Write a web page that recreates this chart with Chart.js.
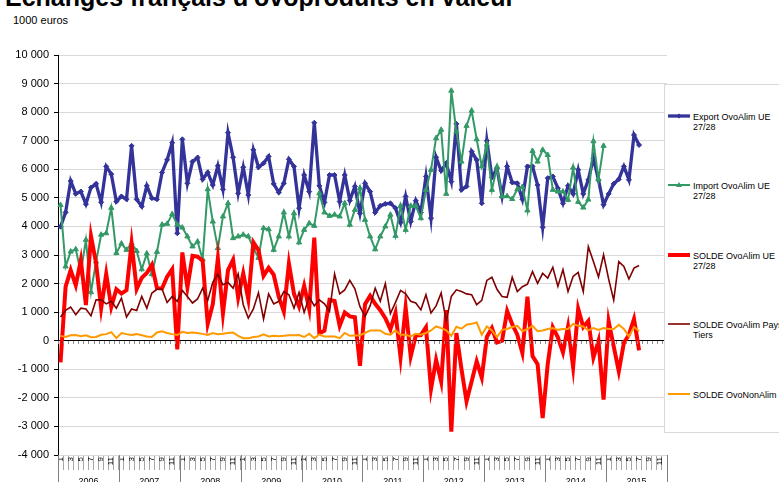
<!DOCTYPE html>
<html lang="fr">
<head>
<meta charset="utf-8">
<title>Echanges français d'ovoproduits en valeur</title>
<script src="https://cdn.jsdelivr.net/npm/chart.js@4/dist/chart.umd.min.js"></script>
<style>
  html, body { margin: 0; padding: 0; background: #fff; overflow: hidden; }
  body { width: 779px; height: 482px; position: relative; font-family: 'Liberation Sans', Arial, sans-serif; }
  #chart { position: absolute; left: 0; top: 0; }
  .title { position: absolute; left: 5px; top: -15px; font-size: 25px; line-height: 25px; font-weight: bold; white-space: nowrap; }
  .unit { position: absolute; left: 13px; top: 14px; font-size: 11px; line-height: 12px; }
  .legend { position: absolute; left: 664px; top: 84px; width: 140px; height: 347px; border: 1px solid #d9d9d9; background: #fff; }
  .item { position: absolute; left: 0; width: 140px; }
  .item svg { position: absolute; left: 3px; top: 0; }
  .item span { position: absolute; left: 28px; top: -4px; font-size: 9px; line-height: 10px; white-space: nowrap; }
</style>
</head>
<body>
<div class="title">Echanges français d'ovoproduits en valeur</div>
<div class="unit">1000 euros</div>
<canvas id="chart" width="779" height="482"></canvas>
<div class="legend" id="legend"></div>

<script>
// ── Data (1000 euros, monthly from Jan 2006) ─────────────────────
const years  = [2006, 2007, 2008, 2009, 2010, 2011, 2012, 2013, 2014, 2015];
const months = ['1', '2', '3', '4', '5', '6', '7', '8', '9', '10', '11', '12'];

const exportUE = [
  3990, 4490, 5590, 5140, 5220, 4780, 5360, 5490, 4850, 6100, 5830, 4870,
  5050, 4950, 6820, 4950, 4700, 5420, 4990, 4950, 5890, 6330, 6930, 3760,
  7050, 5510, 6270, 6410, 5650, 5890, 5450, 6120, 5300, 7280, 6420, 5160,
  6070, 5100, 6680, 6070, 6210, 6450, 5490, 5190, 5510, 6350, 6100, 4640,
  5800, 5220, 7630, 5420, 4840, 5800, 5800, 4870, 5800, 4910, 5400, 4460,
  5510, 5220, 4490, 4720, 4790, 4810, 4640, 4140, 5050, 4170, 4900, 4490,
  5750, 4290, 6420, 5950, 6210, 5570, 7590, 5280, 5400, 6620, 6330, 4810,
  7000, 5720, 6030, 5050, 6100, 5540, 5510, 4950, 6100, 6100, 5450, 3970,
  5690, 5750, 5340, 4810, 5420, 5140, 5980, 5140, 5630, 6390, 5630, 4760,
  5140, 5490, 5650, 6100, 5630, 7200, 6850
];

const importUE = [
  4750, 2600, 3120, 3200, 2400, 3530, 1700, 2770, 3710, 3760, 4650, 3070,
  3400, 3180, 3410, 3140, 2500, 3050, 2330, 3110, 4060, 4090, 4430, 4060,
  3960, 3650, 3300, 3470, 2850, 5300, 4170, 3240, 4350, 4810, 3590, 3650,
  3710, 3650, 3240, 2900, 3940, 3900, 3180, 3650, 4490, 3650, 4460, 3440,
  3880, 4110, 4020, 5160, 4490, 4370, 4410, 4350, 4810, 4060, 4580, 5340,
  4230, 3650, 3200, 3650, 4000, 4410, 3670, 4720, 3880, 4720, 4720, 4290,
  5280, 5980, 7090, 7380, 5140, 8750, 7320, 6270, 7520, 8050, 7050, 6100,
  6870, 5280, 6090, 5050, 5060, 4960, 5300, 5380, 4560, 6640, 6270, 6680,
  6500, 5280, 5220, 5220, 4930, 6060, 4860, 4660, 4940, 6980, 5640, 6820
];

const soldeUE = [
  -760, 1890, 2470, 1940, 2820, 1250, 3660, 2720, 1140, 2340, 1180, 1800,
  1650, 1770, 3410, 1810, 2200, 2370, 2660, 1840, 1830, 2240, 2500, -300,
  3090, 1860, 2970, 2940, 2800, 590, 1280, 2880, 950, 2470, 2830, 1510,
  2360, 1450, 3440, 3170, 2270, 2550, 2310, 1540, 1020, 2700, 1640, 1200,
  1920, 1110, 3610, 260, 350, 1430, 1390, 520, 990, 850, 820, -880,
  1280, 1570, 1290, 1070, 790, 400, 970, -580, 1170, -550, 180, 200,
  470, -1690, -670, -1430, 1070, -3180, 270, -990, -2120, -1430, -720, -1290,
  130, 440, -60, 0, 1040, 580, 210, -430, 1540, -540, -820, -2710,
  -810, 470, 120, -410, 490, -920, 1120, 480, 690, -590, -10, -2060,
  680, -200, -1070, -80, 210, 760, -340
];

const soldePaysTiers = [
  830, 1060, 1180, 910, 1140, 1110, 870, 1430, 1430, 1290, 1380, 1140,
  1490, 830, 1110, 1060, 1550, 1140, 1670, 1800, 1810, 1340, 1550, 1380,
  1760, 1550, 1320, 1460, 1840, 1410, 2040, 2340, 1960, 2040, 1840, 2340,
  1260, 790, 1110, 1680, 760, 1640, 1290, 1380, 1720, 1610, 1140, 1690,
  990, 1530, 1220, 1430, 1290, 1030, 2340, 1640, 1780, 2110, 1820, 1190,
  850, 1220, 1840, 1380, 2000, 950, 1340, 1760, 1640, 1380, 1320, 1080,
  1610, 970, 1220, 1670, 680, 1550, 1780, 1720, 1640, 1610, 1260, 1410,
  2110, 2220, 1800, 1550, 1520, 2220, 1720, 1890, 1980, 2420, 2010, 2360,
  2190, 2570, 1900, 2490, 1720, 2250, 2390, 1720, 3290, 2770, 2230, 3010,
  2160, 1420, 2770, 2600, 2160, 2540, 2630
];

const soldeNonAlim = [
  170, 130, 190, 200, 160, 190, 120, 130, 210, 230, 300, 90,
  270, 230, 200, 230, 190, 150, 130, 290, 330, 270, 230, 200,
  310, 270, 290, 270, 240, 200, 270, 230, 240, 270, 290, 170,
  90, 90, 130, 150, 220, 150, 170, 160, 170, 190, 190, 200,
  130, 240, 90, 210, 150, 150, 150, 90, 270, 170, 180, 190,
  270, 360, 360, 360, 240, 210, 360, 210, 210, 150, 240, 210,
  270, 360, 500, 440, 360, 170, 490, 420, 560, 590, 640, 210,
  500, 360, 130, 380, 410, 480, 520, 330, 410, 520, 330, 360,
  410, 440, 380, 410, 410, 590, 520, 500, 360, 440, 380, 440,
  410, 410, 560, 410, 150, 480, 330
];

// one category per month, labelled by month number
const categories = years.flatMap(() => months);

const FONT = "'Liberation Sans', Arial, sans-serif";

const series = [
  { label: 'Export OvoAlim UE 27/28',    data: exportUE,       color: '#333399', width: 3.3, marker: 'rectRot',  radius: 2.5 },
  { label: 'Import OvoAlim UE 27/28',    data: importUE,       color: '#339966', width: 2,   marker: 'triangle', radius: 3 },
  { label: 'SOLDE OvoAlim UE 27/28',     data: soldeUE,        color: '#ff0000', width: 4,   marker: false,      radius: 0 },
  { label: 'SOLDE OvoAlim Pays Tiers',   data: soldePaysTiers, color: '#800000', width: 1.6, marker: false,      radius: 0 },
  { label: 'SOLDE OvoNonAlim',           data: soldeNonAlim,   color: '#ff9900', width: 2,   marker: false,      radius: 0 },
];

// "10 000", "-1 000"
function spaced(v) {
  const s = Math.abs(v).toString().replace(/\B(?=(\d{3})+(?!\d))/g, ' ');
  return (v < 0 ? '-' : '') + s;
}

// year row under the month numbers, plus the small ticks along the zero line
const yearAxis = {
  id: 'yearAxis',
  afterDraw(chart) {
    const { ctx, chartArea, scales: { x, y } } = chart;
    const step = x.getPixelForValue(1) - x.getPixelForValue(0);
    ctx.save();
    ctx.lineWidth = 1;

    ctx.strokeStyle = '#7f7f7f';
    for (let k = 0; k <= years.length; k++) {
      const px = Math.round(x.getPixelForValue(k * 12) - step / 2) + 0.5;
      ctx.beginPath();
      ctx.moveTo(px, chartArea.bottom);
      ctx.lineTo(px, chart.height);
      ctx.stroke();
    }

    ctx.fillStyle = '#000';
    ctx.font = '9px ' + FONT;
    ctx.textAlign = 'center';
    ctx.textBaseline = 'top';
    years.forEach((yr, k) => {
      const cx = (x.getPixelForValue(k * 12) + x.getPixelForValue(k * 12 + 11)) / 2;
      ctx.fillText(String(yr), cx, 477);
    });

    const y0 = Math.round(y.getPixelForValue(0));
    ctx.strokeStyle = '#8c8c8c';
    for (let i = 0; i <= categories.length; i++) {
      const px = Math.round(x.getPixelForValue(i) - step / 2) + 0.5;
      ctx.beginPath();
      ctx.moveTo(px, y0);
      ctx.lineTo(px, y0 + 3);
      ctx.stroke();
    }
    ctx.restore();
  }
};

new Chart(document.getElementById('chart'), {
  type: 'line',
  data: {
    labels: categories,
    datasets: series.map((s, i) => ({
      label: s.label,
      data: s.data,
      borderColor: s.color,
      backgroundColor: s.color,
      borderWidth: s.width,
      pointStyle: s.marker || 'circle',
      pointRadius: s.radius,
      pointBorderWidth: 1,
      tension: 0,
      fill: false,
      order: series.length - i,
    })),
  },
  options: {
    responsive: false,
    animation: false,
    layout: { padding: { top: 55, right: 112, bottom: 0, left: 0 } },
    plugins: { legend: { display: false }, tooltip: { enabled: false } },
    scales: {
      x: {
        offset: true,
        border: { display: false },
        grid: { offset: true, drawOnChartArea: false, tickLength: 15, color: '#a6a6a6' },
        ticks: {
          autoSkip: false, minRotation: 90, maxRotation: 90, padding: -13,
          color: '#000', font: { family: FONT, size: 8 },
          callback: (v, i) => (i % 2 === 0 ? categories[i] : ''),
        },
        afterFit: s => { s.height = 27; },
      },
      y: {
        min: -4000, max: 10000,
        border: { color: '#000', width: 1 },
        grid: {
          color: c => (c.tick && c.tick.value === 0 ? '#000' : '#d9d9d9'),
          tickColor: '#000', tickLength: 4,
        },
        ticks: { stepSize: 1000, padding: 5, color: '#000', font: { family: FONT, size: 11 }, callback: spaced },
        afterFit: s => { s.width = 58; },
      },
    },
  },
  plugins: [yearAxis],
});

// ── Legend (right-hand box) ──────────────────────────────────────
const legendRows = [
  ['Export OvoAlim UE', '27/28'],
  ['Import OvoAlim UE', '27/28'],
  ['SOLDE OvoAlim UE', '27/28'],
  ['SOLDE OvoAlim Pays', 'Tiers'],
  ['SOLDE OvoNonAlim'],
];
const legendTops = [31, 100, 170, 239, 309];
const legendEl = document.getElementById('legend');
series.forEach((s, i) => {
  const item = document.createElement('div');
  item.className = 'item';
  item.style.top = legendTops[i] + 'px';
  let mark = '';
  if (s.marker === 'rectRot') mark = '<polygon points="11,-2.5 13.5,0 11,2.5 8.5,0" fill="' + s.color + '"/>';
  if (s.marker === 'triangle') mark = '<polygon points="11,-3 14,2 8,2" fill="' + s.color + '"/>';
  item.innerHTML =
    '<svg width="24" height="10" viewBox="0 -5 24 10" style="top:-5px">' +
    '<line x1="0" y1="0" x2="22" y2="0" stroke="' + s.color + '" stroke-width="' + s.width + '"/>' + mark +
    '</svg><span>' + legendRows[i].join('<br>') + '</span>';
  legendEl.appendChild(item);
});
</script>
</body>
</html>
